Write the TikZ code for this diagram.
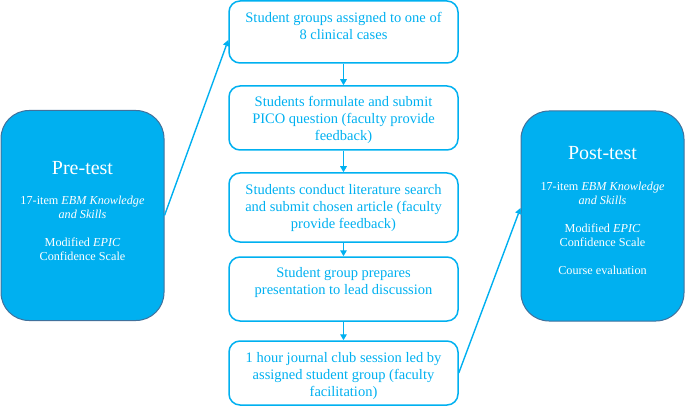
\documentclass[tikz,border=0pt]{standalone}
\usepackage{fontspec}
\setmainfont{Liberation Serif}
\usetikzlibrary{arrows.meta,calc}
\definecolor{skyb}{HTML}{00B0F0}
\definecolor{edgeb}{HTML}{41719C}
\begin{document}
\begin{tikzpicture}[x=1pt,y=-1pt,
  bigbox/.style={draw=edgeb,line width=1pt,fill=skyb,rounded corners=28pt,
     minimum width=163pt,minimum height=210pt,inner sep=0pt},
  stepbox/.style={draw=skyb,line width=1.5pt,rounded corners=11pt,
     minimum width=229pt,inner sep=0pt},
  steptxt/.style={text=skyb,align=center,font=\fontsize{14.5}{17}\selectfont,inner sep=0pt},
  title/.style={text=white,font=\fontsize{20}{24}\selectfont,inner sep=0pt},
  body/.style={text=white,align=center,font=\fontsize{12.2}{14}\selectfont,inner sep=0pt},
  conn/.style={draw=skyb,line width=1.4pt,-{Triangle[width=6.5pt,length=6pt]}}]
\useasboundingbox (0,0) rectangle (685,406);

% big boxes
\node[bigbox] (pre) at (82.5,215.5) {};
\node[bigbox] (post) at (602.5,216) {};
\node[title] (pretitle) at (82.5,168) {Pre-test};
\node[body] (prebody) at (82.5,228) {17-item \textit{EBM Knowledge}\\\textit{and Skills}\\[14pt]Modified \textit{EPIC}\\Confidence Scale};
\node[title] (posttitle) at (602.5,153) {Post-test};
\node[body] (postbody) at (602.5,228) {17-item \textit{EBM Knowledge}\\\textit{and Skills}\\[14pt]Modified \textit{EPIC}\\Confidence Scale\\[14pt]Course evaluation};

% steps
\node[stepbox,minimum height=62pt] (b1) at (343.5,32) {};
\node[stepbox,minimum height=64pt] (b2) at (343.5,118) {};
\node[stepbox,minimum height=69pt] (b3) at (343.5,207.5) {};
\node[stepbox,minimum height=64pt] (b4) at (343.5,289) {};
\node[stepbox,minimum height=64pt] (b5) at (343.5,373) {};

\node[steptxt] (t1) at (343.5,26) {Student groups assigned to one of\\8 clinical cases};
\node[steptxt] (t2) at (343.5,119.5) {Students formulate and submit\\PICO question (faculty provide\\feedback)};
\node[steptxt] (t3) at (343.5,208.5) {Students conduct literature search\\and submit chosen article (faculty\\provide feedback)};
\node[steptxt] (t4) at (343.5,283) {Student group prepares\\presentation to lead discussion};
\node[steptxt] (t5) at (343.5,376.5) {1 hour journal club session led by\\assigned student group (faculty\\facilitation)};

% connectors
\draw[conn] (b1.south) -- (b2.north);
\draw[conn] (b2.south) -- (b3.north);
\draw[conn] (b3.south) -- (b4.north);
\draw[conn] (b4.south) -- (b5.north);
\draw[conn] (pre.east) -- ([yshift=-8pt]b1.west);
\draw[conn] (b5.east) -- ([yshift=8pt]post.west);
\end{tikzpicture}
\end{document}
